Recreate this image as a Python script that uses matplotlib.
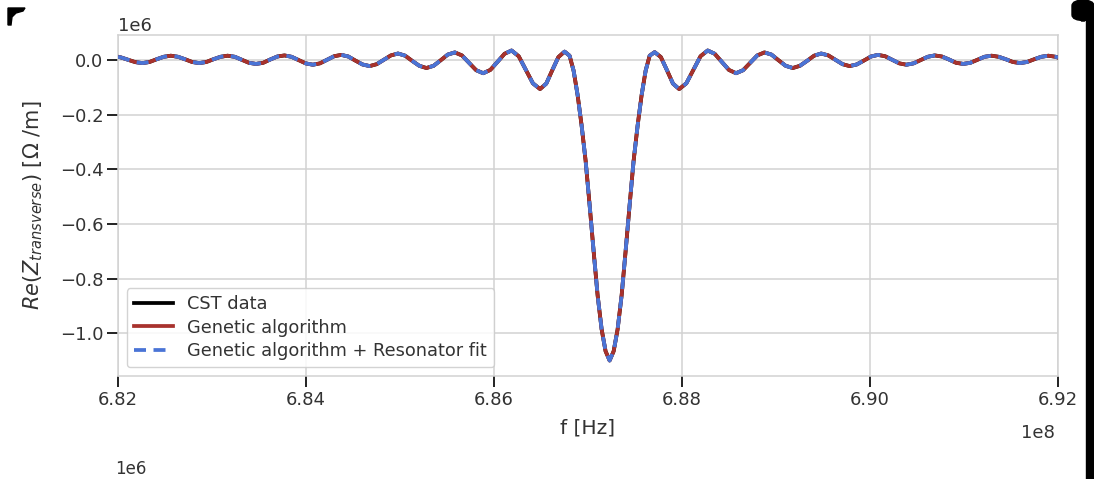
import numpy as np
import matplotlib
matplotlib.use("Agg")
import matplotlib.pyplot as plt
from matplotlib.patches import Rectangle, FancyBboxPatch, Polygon

# ---------------- data ----------------
# resonance frequency and detuning of each sample (MHz)
f0_hz = 687.23e6
detuning_mhz = [
    -5.230, -5.197, -5.121, -5.046, -4.970, -4.895, -4.819, -4.744, -4.668, -4.592,
    -4.517, -4.441, -4.366, -4.290, -4.215, -4.139, -4.064, -3.988, -3.913, -3.837,
    -3.762, -3.686, -3.611, -3.535, -3.459, -3.384, -3.308, -3.233, -3.157, -3.082,
    -3.006, -2.931, -2.855, -2.780, -2.704, -2.629, -2.553, -2.478, -2.402, -2.327,
    -2.251, -2.175, -2.100, -2.024, -1.949, -1.873, -1.798, -1.722, -1.647, -1.571,
    -1.496, -1.420, -1.345, -1.269, -1.194, -1.118, -1.043, -0.967, -0.891, -0.816,
    -0.740, -0.674, -0.610, -0.545, -0.479, -0.426, -0.383, -0.340, -0.298, -0.255,
    -0.213, -0.170, -0.128, -0.085, -0.043, 0.000,
    0.043, 0.085, 0.128, 0.170, 0.213, 0.255, 0.298, 0.340, 0.383, 0.426,
    0.479, 0.545, 0.610, 0.674, 0.740, 0.816, 0.891, 0.967, 1.043, 1.118,
    1.194, 1.269, 1.345, 1.420, 1.496, 1.571, 1.647, 1.722, 1.798, 1.873,
    1.949, 2.024, 2.100, 2.175, 2.251, 2.327, 2.402, 2.478, 2.553, 2.629,
    2.704, 2.780, 2.855, 2.931, 3.006, 3.082, 3.157, 3.233, 3.308, 3.384,
    3.459, 3.535, 3.611, 3.686, 3.762, 3.837, 3.913, 3.988, 4.064, 4.139,
    4.215, 4.290, 4.366, 4.441, 4.517, 4.592, 4.668, 4.744, 4.770,
]
# Re(Z_transverse) in units of 1e6 Ohm/m
re_z_cst = [
    0.011, 0.0085, 0.000, -0.0085, -0.012, -0.008, 0.002, 0.011, 0.015, 0.011,
    0.002, -0.008, -0.012, -0.008, 0.002, 0.011, 0.015, 0.011, 0.000, -0.011,
    -0.015, -0.011, 0.001, 0.012, 0.016, 0.011, -0.001, -0.013, -0.018, -0.013,
    0.000, 0.013, 0.018, 0.012, -0.003, -0.017, -0.023, -0.016, 0.000, 0.016,
    0.023, 0.015, -0.004, -0.022, -0.030, -0.022, -0.002, 0.019, 0.027, 0.016,
    -0.011, -0.038, -0.049, -0.037, -0.008, 0.022, 0.034, 0.013, -0.037, -0.086,
    -0.107, -0.087, -0.038, 0.010, 0.030, 0.015, -0.040, -0.130, -0.240, -0.370,
    -0.530, -0.700, -0.860, -0.985, -1.065, -1.099,
    -1.065, -0.985, -0.860, -0.700, -0.530, -0.370, -0.240, -0.130, -0.040, 0.015,
    0.028, 0.010, -0.038, -0.087, -0.107, -0.086, -0.037, 0.013, 0.034, 0.022,
    -0.008, -0.037, -0.049, -0.038, -0.011, 0.016, 0.027, 0.019, -0.002, -0.022,
    -0.030, -0.022, -0.004, 0.015, 0.023, 0.016, 0.000, -0.016, -0.023, -0.017,
    -0.003, 0.012, 0.018, 0.013, 0.000, -0.013, -0.018, -0.013, -0.001, 0.011,
    0.016, 0.012, 0.001, -0.011, -0.015, -0.011, 0.000, 0.011, 0.015, 0.011,
    0.002, -0.008, -0.012, -0.008, 0.002, 0.011, 0.015, 0.011, 0.008,
]
re_z_ga = list(re_z_cst)          # genetic algorithm overlaps CST data
re_z_ga_res = list(re_z_cst)      # GA + resonator fit overlaps as well

series_labels = ["CST data", "Genetic algorithm", "Genetic algorithm + Resonator fit"]
x_ticks = [6.82e8, 6.84e8, 6.86e8, 6.88e8, 6.90e8, 6.92e8]
y_ticks = [-1.0e6, -0.8e6, -0.6e6, -0.4e6, -0.2e6, 0.0]

# ---------------- plotting ----------------
freq = f0_hz + np.array(detuning_mhz) * 1e6
plt.rcParams["font.family"] = ["DejaVu Sans"]
W, H = 1094, 479

fig = plt.figure(figsize=(W / 100, H / 100), dpi=100)
ax = fig.add_axes([118 / W, 1 - 376 / H, (1058 - 118) / W, (376 - 35) / H])

grid_c = "#d2d2d2"
txt_c = "#333333"
ax.plot(freq, np.array(re_z_cst) * 1e6, color="black", lw=2.7, label=series_labels[0], zorder=3)
ax.plot(freq, np.array(re_z_ga) * 1e6, color="#a8322d", lw=2.7, label=series_labels[1], zorder=4)
ax.plot(freq, np.array(re_z_ga_res) * 1e6, color="#4a74d6", lw=2.7, ls=(0, (3.2, 2.0)),
        label=series_labels[2], zorder=5)

ax.set_xlim(6.82e8, 6.92e8)
ax.set_xticks(x_ticks)
ax.set_yticks(y_ticks)
ax.ticklabel_format(axis="both", style="sci", scilimits=(0, 0), useOffset=False)
ax.grid(True, color=grid_c, lw=1.1)
ax.set_axisbelow(True)
for s in ax.spines.values():
    s.set_color(grid_c)
    s.set_linewidth(1.1)
ax.tick_params(axis="both", direction="out", length=8, width=1.4, color="#222222",
               labelsize=13, labelcolor=txt_c, pad=2.5)
ax.xaxis.get_offset_text().set_visible(False)
ax.yaxis.get_offset_text().set_fontsize(13)
ax.yaxis.get_offset_text().set_color(txt_c)
fig.text(1038 / W, 1 - 433 / H, "1e8", fontsize=13, color=txt_c, ha="center", va="center")

ax.set_xlabel("f [Hz]", fontsize=14.5, color=txt_c, labelpad=7)
ax.set_ylabel(r"$Re(Z_{transverse})$ [Ω /m]", fontsize=15, color=txt_c, labelpad=11)

leg = ax.legend(loc="lower left", fontsize=12.8, frameon=True, fancybox=True,
                borderaxespad=0.5, handlelength=2.2, labelspacing=0.3, borderpad=0.4,
                handletextpad=0.8)
leg.get_frame().set_edgecolor("#cccccc")
leg.get_frame().set_facecolor("white")
leg.get_frame().set_alpha(0.85)
for t in leg.get_texts():
    t.set_color(txt_c)

# screenshot artefacts: black right border, corners and cut-off offset label
fig.patches.append(Rectangle((1086 / W, 0), 8 / W, 0.975, transform=fig.transFigure,
                             color="black", zorder=10))
fig.patches.append(FancyBboxPatch((1072 / W, 0.957), 22 / W, 0.043,
                                  boxstyle="round,pad=0,rounding_size=0.012",
                                  transform=fig.transFigure, color="black", zorder=10))
corner = [(8, 8), (25, 8), (23, 11), (16, 13), (12, 17), (11, 25), (8, 25)]
fig.patches.append(Polygon([(x / W, 1 - y / H) for x, y in corner], closed=True,
                           transform=fig.transFigure, color="black", zorder=10))
fig.text(115 / W, 1 / H, "1e6", fontsize=12, color=txt_c, va="bottom")

fig.savefig("out.png", dpi=100)
